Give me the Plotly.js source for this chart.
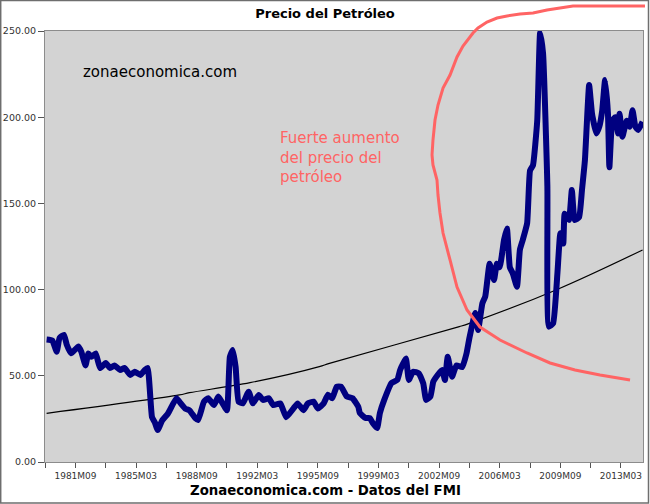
<!DOCTYPE html>
<html>
<head>
<meta charset="utf-8">
<script src="https://cdn.plot.ly/plotly-3.0.1.min.js"></script>
<style>html,body{margin:0;padding:0;background:#fff;}#chart{width:650px;height:504px;}</style>
</head>
<body>
<div id="chart"></div>
<script>
// ---- Data ----
const months = [
"1980-01","1980-05","1980-08","1980-10","1981-01","1981-03","1981-06","1981-11","1982-01","1982-04",
"1982-06","1982-08","1982-11","1983-02","1983-06","1983-09","1983-12","1984-04","1984-07","1984-11",
"1985-02","1985-06","1985-09","1985-11","1986-02","1986-04","1986-06","1986-09","1987-01","1987-07",
"1987-09","1988-01","1988-04","1988-08","1988-10","1989-02","1989-05","1989-09","1989-12","1990-03",
"1990-06","1990-08","1990-10","1990-12","1991-02","1991-05","1991-09","1991-12","1992-04","1992-07",
"1992-11","1993-02","1993-07","1993-11","1994-04","1994-07","1994-11","1995-02","1995-06","1995-09",
"1996-01","1996-04","1996-07","1996-10","1997-01","1997-05","1997-09","1998-01","1998-02","1998-06",
"1998-09","1998-11","1999-02","1999-04","1999-07","1999-12","2000-04","2000-06","2000-08","2000-10",
"2000-12","2001-03","2001-07","2001-10","2001-12","2002-03","2002-05","2002-08","2002-11","2003-01",
"2003-03","2003-06","2003-09","2004-01","2004-04","2004-06","2004-10","2004-12","2005-03","2005-05",
"2005-08","2005-11","2006-01","2006-03","2006-06","2006-08","2006-10","2006-12","2007-03","2007-05",
"2007-07","2007-10","2007-12","2008-02","2008-05","2008-07","2008-09","2008-12","2009-01","2009-04",
"2009-07","2009-09","2009-11","2009-12","2010-03","2010-05","2010-07","2010-10","2010-12","2011-02",
"2011-05","2011-07","2011-10","2011-12","2012-02","2012-04","2012-06","2012-07","2012-09","2012-11",
"2013-01","2013-02","2013-04","2013-07","2013-09","2013-11","2014-01","2014-03","2014-06"
];
const price = [
71,70.4,64,72,73.7,68,63,67,64,56,
63,61,63,54.5,57.4,54.5,56,53.4,54.5,50.5,
52.4,50.5,53.4,54.5,26,23,18.5,24,28,37,
35,31,30,25.5,24.4,35,37,33,38,34,
30,61,65,55,35,34,40.8,34,38.9,36,
37,33,34,26,31,34,30,34,35,31,
34,39,37,43.7,43.7,38,37,32,28.4,25.5,
25.5,22.6,19.7,28.4,36,45.8,47.6,53.4,57,60,
47.6,52.4,51.4,45.6,36,38,46.6,50.5,53.4,47.6,
61,49.5,56,55,63,72,86.4,76.6,92,96,
115,105.6,115,113,128.8,135.5,113,109.5,101.7,123,
128.8,138.5,169,172,198,249,237,160,78.5,80.4,
109.5,132.7,126.8,144,140.4,157.8,140.4,142,157.8,175,
218.7,202,190.6,194.5,204,221.6,202,171,198,200,
190.6,202,188.7,198,194.5,204,194.5,192.6,197.4
];
const trendMonths = ["1980-01","1987-09","1988-04","1991-10","1995-10","1996-05","2003-11","2004-06","2009-06","2014-06"];
const trendValues = [28.2,38.9,40.2,46,55.3,57.2,78.5,80.4,99.8,123];

const tickMonths = ["1979-12","1981-09","1983-06","1985-03","1986-12","1988-09","1990-06","1992-03","1993-12",
  "1995-09","1997-06","1999-03","2000-12","2002-09","2004-06","2006-03","2007-12","2009-09","2011-06","2013-03"];
const tickLabels = ["","1981M09","","1985M03","","1988M09","","1992M03","",
  "1995M09","","1999M03","","2002M09","","2006M03","","2009M09","","2013M03"];

const chartTitle = "Precio del Petróleo";
const sourceText = "Zonaeconomica.com - Datos del FMI";
const watermark = "zonaeconomica.com";
const noteText = "Fuerte aumento<br>del precio del<br>petróleo";

// Hand-drawn red annotation stroke (pixel positions on the 650x504 page)
const redStrokePx = [
[645,6],[573,6],[560,8],[547,10],[533,13],[520,14],[507,16],[497,18],[487,22],[478,28],[473,33],
[463,46],[457,57],[450,75],[443,88],[438,105],[435,120],[433,140],[432,155],[433,165],[437,180],
[438,195],[440,213],[443,233],[450,260],[457,287],[467,310],[480,327],[500,340],[527,353],
[550,363],[575,370],[600,375],[630,380]
];

// ---- Layout geometry ----
const W = 650, H = 504, ML = 45, MR = 7, MT = 31, MB = 42;
const PW = W - ML - MR, PH = H - MT - MB;
const px = x => (x - ML) / PW;
const py = y => (H - MB - y) / PH;

const redPath = redStrokePx.map((p, i) => (i ? "L" : "M") + px(p[0]).toFixed(4) + "," + py(p[1]).toFixed(4)).join(" ");

const traces = [
  {x: trendMonths, y: trendValues, type: "scatter", mode: "lines",
   line: {color: "#000000", width: 1.2, shape: "spline"}, hoverinfo: "skip"},
  {x: months, y: price, type: "scatter", mode: "lines",
   line: {color: "#000080", width: 6, shape: "spline", smoothing: 0.4}, name: "Precio"}
];

const layout = {
  width: W, height: H,
  margin: {l: ML, r: MR, t: MT, b: MB, pad: 0},
  paper_bgcolor: "#ffffff",
  plot_bgcolor: "#d3d3d3",
  showlegend: false,
  font: {family: "DejaVu Sans, sans-serif", color: "#333333"},
  title: {text: "<b>" + chartTitle + "</b>", x: 0.5, xref: "container", y: 1 - 13 / H, yref: "container",
          yanchor: "middle", font: {size: 13, color: "#000000", family: "DejaVu Sans, sans-serif"}},
  xaxis: {
    type: "date", range: ["1979-11-28", "2014-06-10"],
    tickmode: "array", tickvals: tickMonths, ticktext: tickLabels,
    ticks: "outside", ticklen: 5, tickcolor: "#555555", tickwidth: 1,
    tickfont: {size: 9, color: "#333333"},
    showgrid: false, zeroline: false,
    showline: true, mirror: true, linecolor: "#8c8c8c", linewidth: 1
  },
  yaxis: {
    range: [0, 250], tickmode: "linear", tick0: 0, dtick: 50, tickformat: ".2f",
    ticks: "outside", ticklen: 6, tickcolor: "#555555", tickwidth: 1,
    tickfont: {size: 9.5, color: "#333333"},
    showgrid: false, zeroline: false,
    showline: true, mirror: true, linecolor: "#8c8c8c", linewidth: 1
  },
  annotations: [
    {text: "<b>" + sourceText + "</b>", xref: "paper", yref: "paper", x: px(325), y: py(491),
     xanchor: "center", yanchor: "middle", showarrow: false,
     font: {size: 13.3, color: "#000000", family: "DejaVu Sans, sans-serif"}},
    {text: watermark, xref: "paper", yref: "paper", x: px(81), y: py(72),
     xanchor: "left", yanchor: "middle", showarrow: false,
     font: {size: 15, color: "#000000", family: "DejaVu Sans, sans-serif"}},
    {text: noteText, xref: "paper", yref: "paper", x: px(278), y: py(127),
     xanchor: "left", yanchor: "top", align: "left", showarrow: false,
     font: {size: 15, color: "#ff6464", family: "DejaVu Sans, sans-serif"}}
  ],
  shapes: [
    {type: "path", xref: "paper", yref: "paper", path: redPath, layer: "above",
     line: {color: "#ff6464", width: 3}},
    {type: "rect", xref: "paper", yref: "paper", x0: px(0.7), x1: px(648.5), y0: py(503), y1: py(0.5),
     layer: "above", line: {color: "#6e6e6e", width: 1.5}, fillcolor: "rgba(0,0,0,0)"}
  ]
};

Plotly.newPlot("chart", traces, layout, {displayModeBar: false, staticPlot: true});
</script>
</body>
</html>
